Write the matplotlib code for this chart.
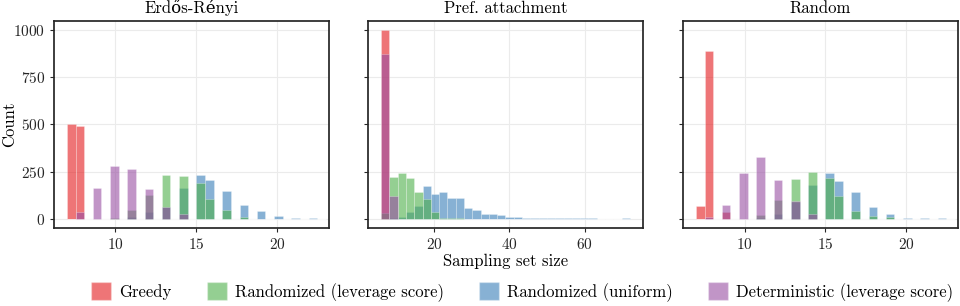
import numpy as np
import matplotlib
matplotlib.use('Agg')
from matplotlib import pyplot as plt
from matplotlib.colors import to_rgba
from matplotlib.patches import Patch

plt.rcParams['font.family'] = ['cmr10', 'DejaVu Serif']
plt.rcParams['axes.formatter.use_mathtext'] = True
plt.rcParams['mathtext.fontset'] = 'cm'

methods = ['Greedy', 'Randomized (leverage score)', 'Randomized (uniform)', 'Deterministic (leverage score)']
colors = ['#e41a1c', '#4daf4a', '#377eb8', '#984ea3']
panels = ['Erdős-Rényi', 'Pref. attachment', 'Random']

# counts per sampling set size (7..23) for Erdos-Renyi and Random graphs
sizes = list(range(7, 24))
er_greedy = [505, 491, 0, 0, 0, 0, 0, 0, 0, 0, 0, 0, 0, 0, 0, 0, 0]
er_lev = [0, 0, 0, 5, 46, 127, 232, 227, 188, 102, 47, 11, 0, 0, 0, 0, 0]
er_unif = [0, 0, 0, 0, 8, 33, 62, 162, 234, 206, 148, 72, 40, 16, 2, 1, 0]
er_det = [0, 33, 163, 279, 262, 156, 62, 26, 0, 0, 0, 0, 0, 0, 0, 0, 0]

rnd_greedy = [65, 891, 37, 0, 0, 0, 0, 0, 0, 0, 0, 0, 0, 0, 0, 0, 0]
rnd_lev = [0, 0, 0, 0, 18, 100, 209, 248, 218, 121, 42, 16, 7, 0, 0, 0, 0]
rnd_unif = [0, 0, 0, 0, 5, 26, 90, 181, 241, 200, 139, 62, 26, 5, 5, 1, 0]
rnd_det = [0, 11, 74, 244, 325, 206, 91, 26, 0, 0, 0, 0, 0, 0, 0, 0, 0]

# preferential attachment: counts per histogram bin (30 bins from 6 to 72)
pa_range = (6, 72)
pa_greedy = [1000] + [0] * 29
pa_lev = [30, 220, 241, 218, 141, 104, 35, 5, 5, 2] + [0] * 20
pa_unif = [0, 4, 6, 37, 69, 174, 130, 141, 109, 109, 56, 44, 25, 25, 19, 7, 7,
           5, 4, 3, 2, 2, 1, 1, 1, 1, 0, 0, 0, 1]
pa_det = [877, 118] + [0] * 28

fig = plt.figure(figsize=(9.6, 3.06), dpi=100)
lefts = [0.05625, 0.3833, 0.7115]
axes = [fig.add_axes([l, 0.2549, 0.2865, 0.6765]) for l in lefts]

def style(ax):
    ax.set_facecolor('white')
    ax.grid(True, color='#ebebeb', linewidth=0.8)
    ax.set_axisbelow(True)
    for s in ax.spines.values():
        s.set_color('#262626')
        s.set_linewidth(1.25)
    ax.tick_params(colors='#262626', labelsize=11, length=3, width=0.8)

draw_order = [0, 2, 1, 3]  # greedy, uniform, leverage, deterministic on top

def draw(ax, series, edges, values):
    for k in draw_order:
        ax.hist(values, bins=edges, weights=series[k],
                facecolor=to_rgba(colors[k], 0.6), edgecolor=(1, 1, 1, 0.3), linewidth=0.6)

edges_small = np.linspace(7, 23, 31)
draw(axes[0], [er_greedy, er_lev, er_unif, er_det], edges_small, sizes)
pa_edges = np.linspace(pa_range[0], pa_range[1], 31)
pa_centers = (pa_edges[:-1] + pa_edges[1:]) / 2
draw(axes[1], [pa_greedy, pa_lev, pa_unif, pa_det], pa_edges, pa_centers)
draw(axes[2], [rnd_greedy, rnd_lev, rnd_unif, rnd_det], edges_small, sizes)

for i, ax in enumerate(axes):
    style(ax)
    ax.set_ylim(-50, 1050)
    ax.set_yticks([0, 250, 500, 750, 1000])
    ax.set_title(panels[i], fontsize=12, pad=6)
    if i > 0:
        ax.tick_params(labelleft=False)

axes[0].set_xlim(6.2, 23.2)
axes[0].set_xticks([10, 15, 20])
axes[2].set_xlim(6.2, 23.2)
axes[2].set_xticks([10, 15, 20])
axes[1].set_xlim(2.5, 75.5)
axes[1].set_xticks([20, 40, 60])

axes[0].set_ylabel('Count', fontsize=12)
axes[0].yaxis.set_label_coords(-0.134, 0.5)
axes[1].set_xlabel('Sampling set size', fontsize=12, labelpad=1)

handles = [Patch(facecolor=to_rgba(c, 0.6), edgecolor=(1, 1, 1, 0.3)) for c in colors]
fig.legend(handles, methods, loc='lower center', bbox_to_anchor=(0.544, -0.035), ncol=4,
           frameon=False, fontsize=12, handlelength=1.2, handleheight=1.3,
           columnspacing=2.15, handletextpad=0.45)

fig.savefig('out.png', dpi=100)
